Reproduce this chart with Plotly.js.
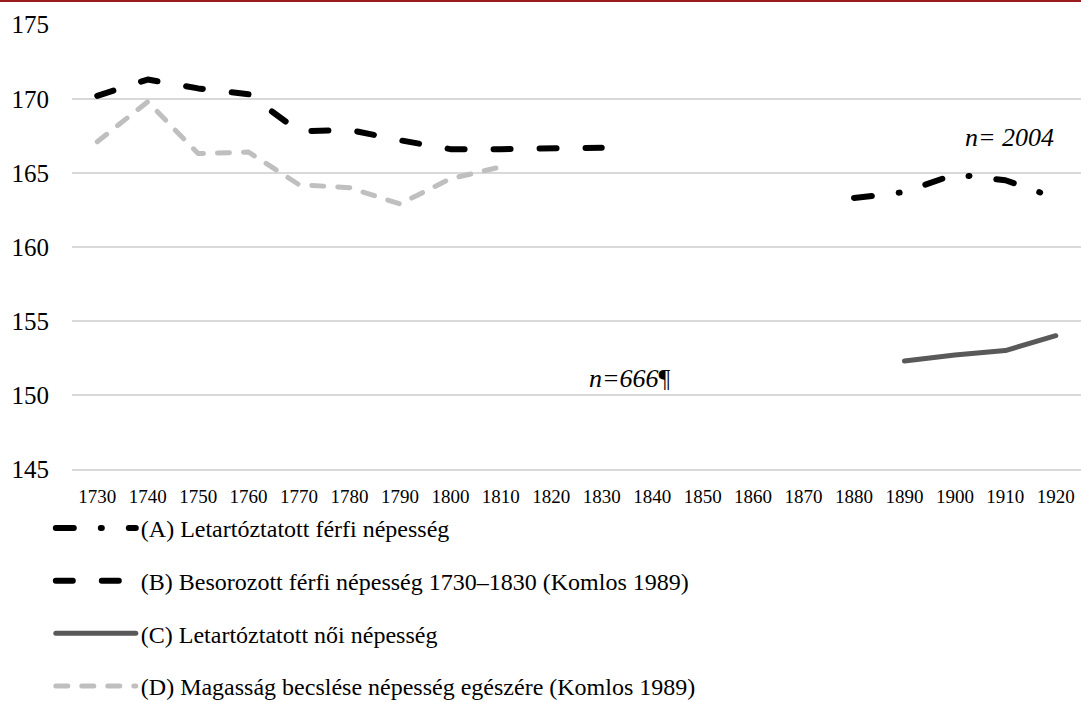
<!DOCTYPE html>
<html>
<head>
<meta charset="utf-8">
<script src="https://cdn.plot.ly/plotly-3.0.1.min.js"></script>
<style>
  html, body { margin: 0; padding: 0; background: #fff; overflow: hidden; }
  #wrap { position: relative; width: 1081px; height: 702px; overflow: hidden; }
  #topline { position: absolute; left: 0; top: 0; width: 1081px; height: 2px; background: #9b1c1c; z-index: 10; }
  #chart { position: absolute; left: 0; top: 0; width: 1081px; height: 714px; }
  .js-line { stroke-linecap: round; stroke-linejoin: round; }
</style>
</head>
<body>
<div id="wrap">
  <div id="chart"></div>
  <div id="topline"></div>
</div>
<script>
const years = ['1730','1740','1750','1760','1770','1780','1790','1800','1810','1820',
               '1830','1840','1850','1860','1870','1880','1890','1900','1910','1920'];

const seriesA = [null,null,null,null,null,null,null,null,null,null,
                 null,null,null,null,null,163.3,163.7,164.9,164.5,163.3];
const seriesB = [170.2,171.3,170.7,170.3,167.8,167.9,167.2,166.6,166.6,166.6,
                 166.7,null,null,null,null,null,null,null,null,null];
const seriesC = [null,null,null,null,null,null,null,null,null,null,
                 null,null,null,null,null,null,152.3,152.7,153.0,154.0];
const seriesD = [167.1,169.8,166.3,166.4,164.2,164.0,162.9,164.6,165.4,null,
                 null,null,null,null,null,null,null,null,null,null];

const names = [
  '(A) Letartóztatott férfi népesség',
  '(B) Besorozott férfi népesség 1730–1830 (Komlos 1989)',
  '(C) Letartóztatott női népesség',
  '(D) Magasság becslése népesség egészére (Komlos 1989)'
];
const yTicks = [145,150,155,160,165,170,175];

const serif = 'Liberation Serif, Times New Roman, serif';

const traces = [
  {x: years, y: seriesA, name: names[0], legendgroup: 'a', mode: 'lines',
   line: {color: '#000000', width: 6, dash: '18px,27px,1px,27px'}},
  {x: years, y: seriesB, name: names[1], legendgroup: 'b', mode: 'lines',
   line: {color: '#000000', width: 6, dash: '17px,29px'}},
  {x: years, y: seriesC, name: names[2], legendgroup: 'c', mode: 'lines',
   line: {color: '#595959', width: 5}},
  {x: years, y: seriesD, name: names[3], legendgroup: 'd', mode: 'lines',
   line: {color: '#bfbfbf', width: 5, dash: '12px,14px'}}
];

const layout = {
  width: 1081, height: 714,
  margin: {l: 72, r: 0, t: 24, b: 0},
  paper_bgcolor: '#ffffff', plot_bgcolor: '#ffffff',
  showlegend: true,
  legend: {
    x: -0.021, xanchor: 'left', y: 0.0075, yanchor: 'bottom',
    orientation: 'v', traceorder: 'grouped', tracegroupgap: 18.5,
    itemwidth: 80,
    font: {family: serif, size: 24, color: '#000000'},
    bgcolor: 'rgba(0,0,0,0)'
  },
  xaxis: {
    type: 'category', categoryorder: 'array', categoryarray: years,
    range: [-0.5, 19.5], anchor: 'y',
    showgrid: false, zeroline: false,
    showline: true, linecolor: '#d9d9d9', linewidth: 1.5,
    ticks: '', ticklabelstandoff: 10,
    tickfont: {family: serif, size: 19, color: '#000000'}
  },
  yaxis: {
    domain: [0.35507, 1],
    range: [145, 175.05],
    tickvals: yTicks, ticktext: yTicks.map(String),
    showgrid: true, gridcolor: '#d9d9d9', gridwidth: 1.5,
    zeroline: false, showline: false, ticks: '',
    ticklabelstandoff: 22,
    tickfont: {family: serif, size: 25, color: '#000000'}
  },
  annotations: [
    {xref: 'paper', yref: 'y', x: 0.9296, y: 167.4, xanchor: 'center', yanchor: 'middle',
     showarrow: false,
     text: '<i>n= 2004</i>', font: {family: serif, size: 26, color: '#000000'}},
    {xref: 'paper', yref: 'y', x: 0.553, y: 151.1, xanchor: 'center', yanchor: 'middle',
     showarrow: false,
     text: '<i>n=666</i>¶', font: {family: serif, size: 26, color: '#000000'}}
  ]
};

Plotly.newPlot('chart', traces, layout, {displayModeBar: false, staticPlot: true});
</script>
</body>
</html>
